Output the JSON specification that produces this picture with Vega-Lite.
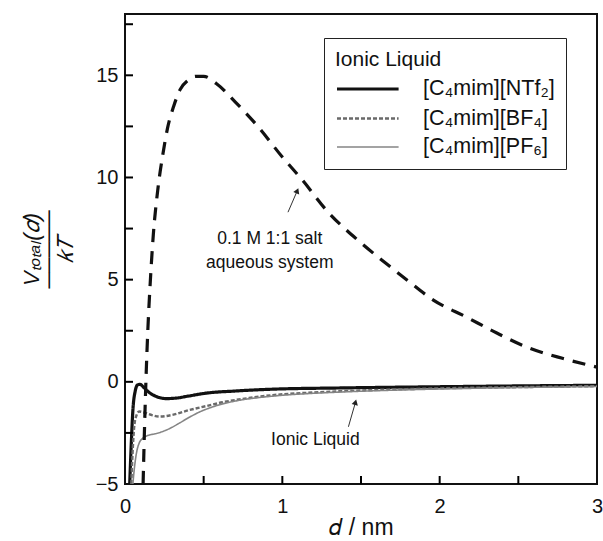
{
  "$schema": "https://vega.github.io/schema/vega-lite/v6.json",
  "width": 472,
  "height": 470,
  "autosize": {"type": "none"},
  "padding": {"left": 125, "top": 14, "right": 6, "bottom": 57},
  "background": "white",
  "config": {
    "font": "Liberation Sans",
    "view": {"stroke": "#111", "strokeWidth": 2},
    "axis": {"grid": false, "zindex": 2, "domainColor": "#111", "domainWidth": 2, "tickColor": "#000", "tickWidth": 2, "labelColor": "#111", "titleColor": "#111", "labelFontSize": 20, "labelFont": "Liberation Sans", "titleFont": "Liberation Sans", "titleFontWeight": "normal"}
  },
  "datasets": {
    "curves": [
      {"s": "aq", "d": 0.115, "v": -5}, {"s": "aq", "d": 0.125, "v": -2}, {"s": "aq", "d": 0.135, "v": 0.5}, {"s": "aq", "d": 0.145, "v": 2.5}, {"s": "aq", "d": 0.16, "v": 4.8}, {"s": "aq", "d": 0.18, "v": 7.2}, {"s": "aq", "d": 0.21, "v": 9.5}, {"s": "aq", "d": 0.24, "v": 11.1}, {"s": "aq", "d": 0.27, "v": 12.4}, {"s": "aq", "d": 0.31, "v": 13.5}, {"s": "aq", "d": 0.35, "v": 14.3}, {"s": "aq", "d": 0.4, "v": 14.75}, {"s": "aq", "d": 0.45, "v": 14.95}, {"s": "aq", "d": 0.5, "v": 14.95}, {"s": "aq", "d": 0.58, "v": 14.6}, {"s": "aq", "d": 0.7, "v": 13.7}, {"s": "aq", "d": 0.85, "v": 12.45}, {"s": "aq", "d": 1.0, "v": 11.0}, {"s": "aq", "d": 1.13, "v": 9.85}, {"s": "aq", "d": 1.28, "v": 8.4}, {"s": "aq", "d": 1.5, "v": 6.8}, {"s": "aq", "d": 1.65, "v": 5.85}, {"s": "aq", "d": 1.79, "v": 5.0}, {"s": "aq", "d": 1.96, "v": 4.0}, {"s": "aq", "d": 2.17, "v": 3.17}, {"s": "aq", "d": 2.36, "v": 2.4}, {"s": "aq", "d": 2.57, "v": 1.65}, {"s": "aq", "d": 2.78, "v": 1.15}, {"s": "aq", "d": 3.0, "v": 0.72},
      {"s": "[C₄mim][NTf₂]", "d": 0.03, "v": -5}, {"s": "[C₄mim][NTf₂]", "d": 0.04, "v": -3}, {"s": "[C₄mim][NTf₂]", "d": 0.05, "v": -1.4}, {"s": "[C₄mim][NTf₂]", "d": 0.065, "v": -0.45}, {"s": "[C₄mim][NTf₂]", "d": 0.08, "v": -0.15}, {"s": "[C₄mim][NTf₂]", "d": 0.095, "v": -0.12}, {"s": "[C₄mim][NTf₂]", "d": 0.12, "v": -0.28}, {"s": "[C₄mim][NTf₂]", "d": 0.15, "v": -0.5}, {"s": "[C₄mim][NTf₂]", "d": 0.2, "v": -0.72}, {"s": "[C₄mim][NTf₂]", "d": 0.26, "v": -0.82}, {"s": "[C₄mim][NTf₂]", "d": 0.32, "v": -0.8}, {"s": "[C₄mim][NTf₂]", "d": 0.4, "v": -0.7}, {"s": "[C₄mim][NTf₂]", "d": 0.52, "v": -0.55}, {"s": "[C₄mim][NTf₂]", "d": 0.7, "v": -0.45}, {"s": "[C₄mim][NTf₂]", "d": 0.94, "v": -0.36}, {"s": "[C₄mim][NTf₂]", "d": 1.37, "v": -0.3}, {"s": "[C₄mim][NTf₂]", "d": 2.0, "v": -0.24}, {"s": "[C₄mim][NTf₂]", "d": 2.5, "v": -0.2}, {"s": "[C₄mim][NTf₂]", "d": 3.0, "v": -0.17},
      {"s": "[C₄mim][BF₄]", "d": 0.04, "v": -5}, {"s": "[C₄mim][BF₄]", "d": 0.05, "v": -3.2}, {"s": "[C₄mim][BF₄]", "d": 0.06, "v": -2.1}, {"s": "[C₄mim][BF₄]", "d": 0.075, "v": -1.6}, {"s": "[C₄mim][BF₄]", "d": 0.09, "v": -1.45}, {"s": "[C₄mim][BF₄]", "d": 0.12, "v": -1.5}, {"s": "[C₄mim][BF₄]", "d": 0.16, "v": -1.6}, {"s": "[C₄mim][BF₄]", "d": 0.22, "v": -1.7}, {"s": "[C₄mim][BF₄]", "d": 0.3, "v": -1.62}, {"s": "[C₄mim][BF₄]", "d": 0.41, "v": -1.38}, {"s": "[C₄mim][BF₄]", "d": 0.52, "v": -1.18}, {"s": "[C₄mim][BF₄]", "d": 0.62, "v": -1.0}, {"s": "[C₄mim][BF₄]", "d": 0.8, "v": -0.78}, {"s": "[C₄mim][BF₄]", "d": 0.94, "v": -0.65}, {"s": "[C₄mim][BF₄]", "d": 1.2, "v": -0.52}, {"s": "[C₄mim][BF₄]", "d": 1.37, "v": -0.46}, {"s": "[C₄mim][BF₄]", "d": 2.0, "v": -0.32}, {"s": "[C₄mim][BF₄]", "d": 2.5, "v": -0.26}, {"s": "[C₄mim][BF₄]", "d": 3.0, "v": -0.21},
      {"s": "[C₄mim][PF₆]", "d": 0.05, "v": -5}, {"s": "[C₄mim][PF₆]", "d": 0.06, "v": -4.2}, {"s": "[C₄mim][PF₆]", "d": 0.075, "v": -3.4}, {"s": "[C₄mim][PF₆]", "d": 0.09, "v": -3.0}, {"s": "[C₄mim][PF₆]", "d": 0.11, "v": -2.78}, {"s": "[C₄mim][PF₆]", "d": 0.14, "v": -2.64}, {"s": "[C₄mim][PF₆]", "d": 0.2, "v": -2.53}, {"s": "[C₄mim][PF₆]", "d": 0.25, "v": -2.4}, {"s": "[C₄mim][PF₆]", "d": 0.3, "v": -2.22}, {"s": "[C₄mim][PF₆]", "d": 0.35, "v": -2.0}, {"s": "[C₄mim][PF₆]", "d": 0.41, "v": -1.73}, {"s": "[C₄mim][PF₆]", "d": 0.47, "v": -1.49}, {"s": "[C₄mim][PF₆]", "d": 0.53, "v": -1.3}, {"s": "[C₄mim][PF₆]", "d": 0.62, "v": -1.08}, {"s": "[C₄mim][PF₆]", "d": 0.73, "v": -0.9}, {"s": "[C₄mim][PF₆]", "d": 0.94, "v": -0.7}, {"s": "[C₄mim][PF₆]", "d": 1.2, "v": -0.56}, {"s": "[C₄mim][PF₆]", "d": 1.37, "v": -0.5}, {"s": "[C₄mim][PF₆]", "d": 2.0, "v": -0.35}, {"s": "[C₄mim][PF₆]", "d": 2.5, "v": -0.28}, {"s": "[C₄mim][PF₆]", "d": 3.0, "v": -0.23}
    ],
    "notes": [
      {"d": 0.92, "v": 7.0, "t": "0.1 M 1:1 salt"},
      {"d": 0.92, "v": 5.8, "t": "aqueous system"},
      {"d": 1.21, "v": -2.85, "t": "Ionic Liquid"}
    ],
    "arrows": [
      {"d": 1.036, "v": 8.3, "d2": 1.095, "v2": 9.35, "a": 22},
      {"d": 1.42, "v": -2.2, "d2": 1.465, "v2": -1.0, "a": 15}
    ],
    "yticks": [
      {"d": 0, "v": -2.5}, {"d": 0, "v": 0}, {"d": 0, "v": 2.5}, {"d": 0, "v": 5}, {"d": 0, "v": 7.5}, {"d": 0, "v": 10}, {"d": 0, "v": 12.5}, {"d": 0, "v": 15}, {"d": 0, "v": 17.5}
    ],
    "xticks": [
      {"d": 0.5, "v": -5}, {"d": 1, "v": -5}, {"d": 1.5, "v": -5}, {"d": 2, "v": -5}, {"d": 2.5, "v": -5}
    ]
  },
  "layer": [
    {
      "data": {"name": "curves"},
      "transform": [{"filter": "datum.s !== 'aq'"}],
      "mark": {"type": "line", "interpolate": "monotone", "clip": true},
      "encoding": {
        "x": {"field": "d", "type": "quantitative", "scale": {"domain": [0, 3], "nice": false},
          "axis": {"title": "𝑑 / nm", "titleFontSize": 23, "titlePadding": 0, "values": [0, 1, 2, 3], "format": "d", "ticks": false, "labelPadding": 12, "labelFlush": false, "domain": false}},
        "y": {"field": "v", "type": "quantitative", "scale": {"domain": [-5, 18], "nice": false, "zero": false},
          "axis": {"title": ["Vₜₒₜₐₗ(𝑑)", "─────", "𝑘𝑇"], "titleFontSize": 22, "titleFontStyle": "italic", "titleLineHeight": 17, "titlePadding": 18, "values": [-5, 0, 5, 10, 15], "ticks": false, "labelPadding": 7, "domain": false}},
        "detail": {"field": "s"},
        "color": {"field": "s", "type": "nominal", "scale": {"domain": ["[C₄mim][NTf₂]", "[C₄mim][BF₄]", "[C₄mim][PF₆]"], "range": ["#111111", "#6a6a6a", "#858585"]},
          "legend": {"title": "Ionic Liquid", "orient": "none", "legendX": 199, "legendY": 24, "strokeColor": "#222", "padding": 11, "titlePadding": 3, "titleFontSize": 21, "titleFontWeight": "normal", "titleColor": "#111", "labelFontSize": 21.5, "labelColor": "#111", "symbolType": "M -1 0 L 3.4 0", "symbolSize": 784, "labelOffset": 56, "rowPadding": 3, "symbolStrokeWidth": 2, "offset": 0}},
        "strokeDash": {"field": "s", "type": "nominal", "scale": {"domain": ["[C₄mim][NTf₂]", "[C₄mim][BF₄]", "[C₄mim][PF₆]"], "range": [[1, 0], [4, 2], [1, 0]]}, "legend": {"title": "Ionic Liquid"}},
        "strokeWidth": {"field": "s", "type": "nominal", "scale": {"domain": ["[C₄mim][NTf₂]", "[C₄mim][BF₄]", "[C₄mim][PF₆]"], "range": [3.2, 1.6, 1.8]}, "legend": {"title": "Ionic Liquid"}}
      }
    },
    {
      "data": {"name": "curves"},
      "transform": [{"filter": "datum.s === 'aq'"}],
      "mark": {"type": "line", "interpolate": "monotone", "clip": true, "color": "#111", "strokeWidth": 3.2, "strokeDash": [13, 9], "strokeCap": "butt"},
      "encoding": {
        "x": {"field": "d", "type": "quantitative"},
        "y": {"field": "v", "type": "quantitative"}
      }
    },
    {
      "data": {"name": "yticks"},
      "mark": {"type": "tick", "orient": "horizontal", "size": 16, "thickness": 2, "color": "#000", "clip": true, "opacity": 1},
      "encoding": {
        "x": {"field": "d", "type": "quantitative"},
        "y": {"field": "v", "type": "quantitative"}
      }
    },
    {
      "data": {"name": "xticks"},
      "mark": {"type": "tick", "orient": "vertical", "size": 16, "thickness": 2, "color": "#000", "clip": true, "opacity": 1},
      "encoding": {
        "x": {"field": "d", "type": "quantitative"},
        "y": {"field": "v", "type": "quantitative"}
      }
    },
    {
      "data": {"name": "notes"},
      "mark": {"type": "text", "fontSize": 17.5, "color": "#111", "align": "center", "baseline": "middle"},
      "encoding": {
        "x": {"field": "d", "type": "quantitative"},
        "y": {"field": "v", "type": "quantitative"},
        "text": {"field": "t"}
      }
    },
    {
      "data": {"name": "arrows"},
      "mark": {"type": "rule", "color": "#333", "strokeWidth": 1},
      "encoding": {
        "x": {"field": "d", "type": "quantitative"},
        "y": {"field": "v", "type": "quantitative"},
        "x2": {"field": "d2"},
        "y2": {"field": "v2"}
      }
    },
    {
      "data": {"name": "arrows"},
      "mark": {"type": "point", "shape": "triangle-up", "filled": true, "color": "#222", "size": 40, "opacity": 1},
      "encoding": {
        "x": {"field": "d2", "type": "quantitative"},
        "y": {"field": "v2", "type": "quantitative"},
        "angle": {"field": "a", "type": "quantitative", "scale": null}
      }
    }
  ]
}
